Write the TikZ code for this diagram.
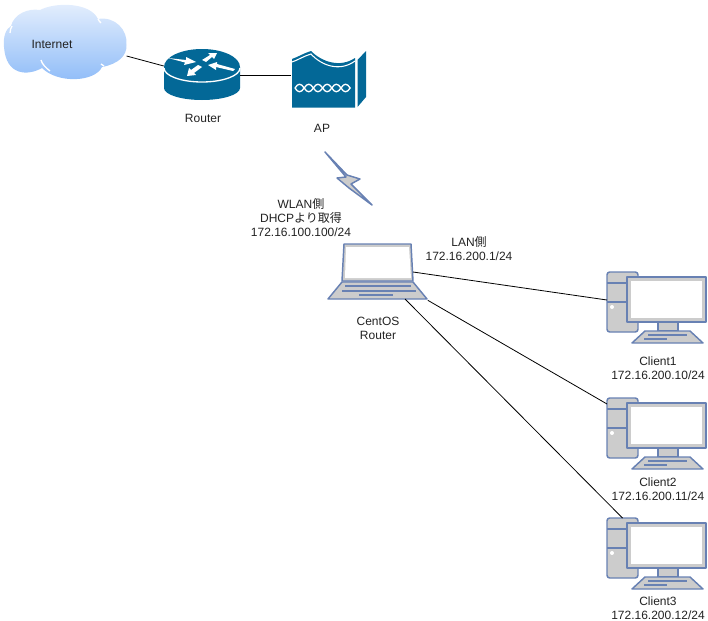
\documentclass[tikz,border=0pt]{standalone}
\usepackage{fontspec}
\setmainfont{Liberation Sans}
\newfontfamily\cjkfont{Noto Sans CJK JP}
\definecolor{edgeblue}{HTML}{6881B3}
\definecolor{fillgray}{HTML}{CCCCCC}
\definecolor{ciscoblue}{HTML}{036897}
\definecolor{labelgray}{HTML}{222222}
\definecolor{cloudtop}{HTML}{DAE8FC}
\definecolor{cloudbottom}{HTML}{8DBBF8}
\tikzset{
  label text/.style={inner sep=0pt,align=center,font=\fontsize{9}{10.5}\selectfont,text=labelgray},
  link/.style={draw=black,line width=0.6pt},
  dev/.style={draw=edgeblue,fill=fillgray,line width=1.1pt,line join=round},
  hole/.style={inner sep=0pt,minimum size=0pt},
  pics/pc/.style={code={
    \draw [dev,rounded corners=2] (0,0) rectangle (31,60);
    \draw [edgeblue,line width=1.1pt] (0,11) -- (31,11) (0,30) -- (31,30);
    \fill [white] (5,35) circle (1.5pt);
    \draw [dev] (51,50) rectangle (71,59);
    \draw [dev] (38,59) -- (83,59) -- (96,71) -- (25,71) -- cycle;
    \draw [edgeblue,line width=1.1pt] (41,63) -- (80,63) (37,67) -- (60,67);
    \draw [dev] (20,5) rectangle (99,50);
    \fill [white] (24,9) rectangle (95,46);
  }},
}
\begin{document}
\begin{tikzpicture}[x=0.75pt,y=-0.75pt]
\useasboundingbox (0,0) rectangle (708,621);
% internet
\shade [top color=cloudtop!70!white,bottom color=cloudbottom] (4,47) .. controls (3,36) and (6,29) .. (11,26)
  .. controls (14,14) and (28,8) .. (40,10) .. controls (55,2) and (90,2) .. (98,19)
  .. controls (115,16) and (128,30) .. (126.5,45) .. controls (127,56) and (118,64) .. (102,67)
  .. controls (95,82) and (58,84) .. (42,68) .. controls (28,76) and (6,76) .. (4,47) -- cycle;
\draw [white,line width=1pt] (10,33) .. controls (10,30) and (11,28) .. (12,26) (98,19) .. controls (99,21) and (100,22) .. (101,23)
  (41,60) .. controls (42,64) and (46,68) .. (50,71) (101,64) -- (104,66);
\node [hole,minimum width=92pt,minimum height=53pt] (internet) at (65,42) {};
\node [label text] (internetlabel) at (52,44) {Internet};
% router
\node [hole,minimum width=57pt,minimum height=38pt] (router) at (202,74.5) {};
\fill [ciscoblue] (164,67) arc (180:0:28.5pt and 13.5pt) -- (240,88) arc (0:-180:28.5pt and 9pt) -- cycle;
\draw [white,line width=1pt] (164,68) arc (180:360:28.5pt and 10.5pt);
\fill [white] (168,58) -- (186,60) -- (186,57) -- (196,62) -- (184,65) -- (185,62.5) -- cycle;
\fill [white] (202,60) -- (210,55) -- (208,53) -- (217,53) -- (214,59) -- (212,57) -- (206,62) -- cycle;
\fill [white] (208,65) -- (217,62) -- (217,64) -- (235,69) -- (233,71) -- (216,67) -- (216,70) -- cycle;
\fill [white] (187,76) -- (189,68) -- (191,70) -- (198,65) -- (202,67) -- (194,73) -- (196,75) -- cycle;
\node [label text] (routerlabel) at (203,118) {Router};
% ap
\node [hole,minimum width=56pt,minimum height=44pt] (ap) at (328.5,79) {};
\fill [ciscoblue] (292,59) .. controls (298,57) and (304,53) .. (311,51) .. controls (322,62) and (340,68) .. (355,58) -- (355,107.5) -- (292,107.5) -- cycle;
\fill [ciscoblue] (357.5,60) -- (366,51) -- (366,97) -- (357.5,107) -- cycle;
\draw [white,line width=0.8pt] (292,62) .. controls (298,60) and (304,56) .. (311,54) .. controls (322,66) and (340,72) .. (355,61);
\foreach \x in {0,1,...,5}{
  \draw [white,line width=1pt] ({295+\x*9.2},88) .. controls ({298+\x*9.2},83) and ({301+\x*9.2},83) .. ({304.2+\x*9.2},88)
    .. controls ({301+\x*9.2},93) and ({298+\x*9.2},93) .. ({295+\x*9.2},88);
}
\node [label text] (aplabel) at (322,128) {AP};
% wireless
\draw [dev] (325,152) -- (347,175) -- (360,179) -- (351,184) -- (372,205) -- (349,188) -- (337,178) -- (346,177) -- cycle;
% centos
\node [hole,minimum width=75pt,minimum height=42pt] (laptop) at (377.5,272) {};
\coordinate (laptoplan) at (413,272);
\coordinate (laptopmid) at (405,299);
\draw [dev] (342,282) -- (413,282) -- (427,299) -- (328,299) -- cycle;
\draw [edgeblue,line width=1.1pt] (345,286) -- (411,286) (342,291) -- (416,291) (359,295) -- (393,295);
\draw [dev] (344,244) -- (411,244) -- (413,281) -- (342,281) -- cycle;
\fill [white] (346,247) -- (409,247) -- (411,278) -- (345,278) -- cycle;
\node [label text] (wlanlabel) at (301,217.5) {WLAN{\cjkfont 側}\\DHCP{\cjkfont より取得}\\172.16.100.100/24};
\node [label text] (lanlabel) at (469,249) {LAN{\cjkfont 側}\\172.16.200.1/24};
\node [label text] (centoslabel) at (378,328) {CentOS\\Router};
% clients
\foreach \n/\y in {1/272,2/398,3/518}{
  \node [hole,minimum width=75pt,minimum height=53pt] (client\n) at (657,\y+35.5) {};
  \pic at (607,\y) {pc};
}
\coordinate (port1) at (607,300);
\coordinate (port2) at (607,404);
\coordinate (port3) at (622.5,518);
\node [label text] (client1label) at (658,368.5) {Client1\\172.16.200.10/24};
\node [label text] (client2label) at (658,489) {Client2\\172.16.200.11/24};
\node [label text] (client3label) at (658,608.5) {Client3\\172.16.200.12/24};
% links
\draw [link] (internet.east |- 0,56) -- (router.west |- 0,66);
\draw [link] (router.east |- 0,75) -- (ap.west |- 0,75);
\draw [link] (laptoplan) -- (port1);
\draw [link] (laptop.south east) -- (port2);
\draw [link] (laptopmid) -- (port3);
\end{tikzpicture}
\end{document}
